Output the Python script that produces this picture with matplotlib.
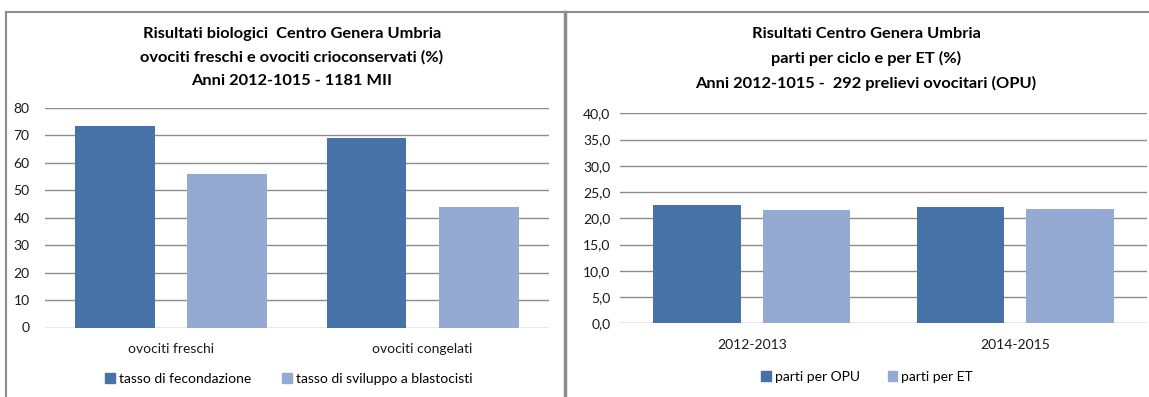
import matplotlib
matplotlib.use("Agg")
import matplotlib.pyplot as plt
from matplotlib.lines import Line2D
from matplotlib.patches import Patch
import numpy as np

plt.rcParams["font.family"] = ["Lato", "DejaVu Sans"]

# left chart
left_cats = ["ovociti freschi", "ovociti congelati"]
left_fec = [73.4, 69.1]
left_blast = [56.0, 43.9]
left_series = ["tasso di fecondazione", "tasso di sviluppo a blastocisti"]
left_title = ("Risultati biologici  Centro Genera Umbria\n"
              "ovociti freschi e ovociti crioconservati (%)\n"
              "Anni 2012-1015 - 1181 MII")

# right chart
right_cats = ["2012-2013", "2014-2015"]
right_opu = [22.5, 22.1]
right_et = [21.5, 21.8]
right_series = ["parti per OPU", "parti per ET"]
right_title = ("Risultati Centro Genera Umbria\n"
               "parti per ciclo e per ET (%)\n"
               "Anni 2012-1015 -  292 prelievi ovocitari (OPU)")

dark = "#4672A8"
light = "#95AAD2"
grid_c = "#8C8C8C"

W, H = 1149, 397
fig = plt.figure(figsize=(W / 100, H / 100), dpi=100)


def px(x, y):
    return x / W, 1 - y / H


def style(ax):
    for s in ax.spines.values():
        s.set_visible(False)
    ax.tick_params(length=0, labelsize=10, colors="#1a1a1a")
    ax.yaxis.grid(True, color=grid_c, lw=1)
    ax.set_axisbelow(True)
    ax.set_xlim(-0.5, 1.5)


# left axes
ax1 = fig.add_axes([45 / W, 1 - 327.5 / H, 503.5 / W, 219.5 / H])
x = np.arange(len(left_cats))
ax1.bar(x - 0.223, left_fec, 0.316, color=dark, zorder=2)
ax1.bar(x + 0.223, left_blast, 0.316, color=light, zorder=2)
ax1.set_ylim(0, 80)
ax1.set_yticks(range(0, 81, 10))
ax1.set_xticks(x)
ax1.set_xticklabels(left_cats)
style(ax1)
ax1.tick_params(axis="x", pad=11)
ax1.tick_params(axis="y", pad=11)

# right axes
ax2 = fig.add_axes([620 / W, 1 - 323.3 / H, 527 / W, 210 / H])
x = np.arange(len(right_cats))
ax2.bar(x - 0.2075, right_opu, 0.332, color=dark, zorder=2)
ax2.bar(x + 0.2075, right_et, 0.332, color=light, zorder=2)
ax2.set_ylim(0, 40)
ax2.set_yticks(np.arange(0, 41, 5))
ax2.set_yticklabels([f"{v:.1f}".replace(".", ",") for v in np.arange(0, 41, 5)])
ax2.set_xticks(x)
ax2.set_xticklabels(right_cats)
style(ax2)
ax2.tick_params(axis="x", pad=11)
ax2.tick_params(axis="y", pad=7)

# titles
fig.text(*px(292, 57.5), left_title, ha="center", va="center",
         fontsize=11.8, fontweight="bold", linespacing=1.8)
fig.text(*px(866, 59), right_title, ha="center", va="center",
         fontsize=11.8, fontweight="bold", linespacing=1.8)

# legends
h1 = [Patch(color=dark), Patch(color=light)]
fig.legend(h1, left_series, loc="center", bbox_to_anchor=px(289, 379),
           ncol=2, frameon=False, fontsize=10, handlelength=0.7,
           handleheight=0.7, handletextpad=0.3, columnspacing=2.2)
fig.legend(h1, right_series, loc="center", bbox_to_anchor=px(867, 377),
           ncol=2, frameon=False, fontsize=10, handlelength=0.7,
           handleheight=0.7, handletextpad=0.3, columnspacing=2.0)

# panel borders
bc = "#8C8C8C"
fig.add_artist(Line2D([6 / W, 6 / W], [0, 1 - 11.5 / H], color=bc, lw=1.5,
                      transform=fig.transFigure))
fig.add_artist(Line2D([6 / W, 1], [1 - 11.5 / H, 1 - 11.5 / H], color=bc, lw=1.5,
                      transform=fig.transFigure))
fig.add_artist(Line2D([565 / W, 565 / W], [0, 1 - 11.5 / H], color=bc, lw=2.5,
                      transform=fig.transFigure))

fig.savefig("out.png", dpi=100)
